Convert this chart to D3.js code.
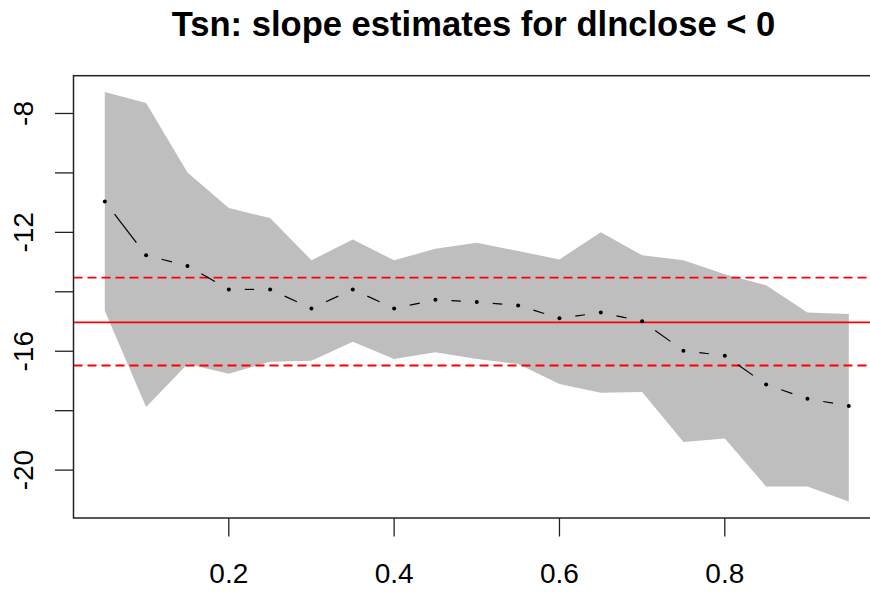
<!DOCTYPE html>
<html>
<head>
<meta charset="utf-8">
<script src="https://cdn.jsdelivr.net/npm/d3@7"></script>
<style>
  body { margin: 0; background: #fff; }
  svg text { font-family: "Liberation Sans", Arial, sans-serif; fill: #000; }
</style>
</head>
<body>
<svg id="chart"></svg>
<script>
const width = 870;
const height = 592;

/* ---------------------------
Data
--------------------------- */

const taus = [0.05, 0.10, 0.15, 0.20, 0.25, 0.30, 0.35, 0.40, 0.45, 0.50,
              0.55, 0.60, 0.65, 0.70, 0.75, 0.80, 0.85, 0.90, 0.95];

const estimates = [-10.96, -12.77, -13.13, -13.92, -13.92, -14.56, -13.92, -14.56, -14.27, -14.34,
                   -14.46, -14.89, -14.70, -14.99, -15.98, -16.15, -17.12, -17.60, -17.84];

const upper = [-7.28, -7.65, -9.99, -11.18, -11.52, -12.94, -12.24, -12.94, -12.55, -12.35,
               -12.63, -12.91, -12.00, -12.77, -12.94, -13.41, -13.78, -14.70, -14.75];

const lower = [-14.64, -17.88, -16.43, -16.76, -16.35, -16.32, -15.68, -16.26, -16.03, -16.26,
               -16.43, -17.10, -17.40, -17.37, -19.05, -18.94, -20.55, -20.55, -21.06];

const olsEstimate = -15.03;
const olsBounds = [-13.52, -16.48];

const xTicks = [0.2, 0.4, 0.6, 0.8];
const yTicks = [-8, -10, -12, -14, -16, -18, -20];
const yLabels = [-8, -12, -16, -20];

const title = "Tsn: slope estimates for dlnclose < 0";

/* ---------------------------
Scales (R style 4% padding)
--------------------------- */

const plotLeft = 73.5;
const plotTop = 75.7;
const plotBottom = 518;
const plotRight = 877;

const x = d3.scaleLinear()
  .domain([0.05, 0.95])
  .range([104.8, 848.8]);

const yMin = d3.min(lower);
const yMax = d3.max(upper);
const yPad = (yMax - yMin) * 0.04;

const y = d3.scaleLinear()
  .domain([yMin - yPad, yMax + yPad])
  .range([plotBottom, plotTop]);

const svg = d3.select("#chart")
  .attr("width", width)
  .attr("height", height);

/* ---------------------------
Confidence band
--------------------------- */

const band = taus.map((t, i) => ({ t: t, lo: lower[i], hi: upper[i] }));

svg.append("path")
  .datum(band)
  .attr("fill", "#bebebe")
  .attr("stroke", "none")
  .attr("d", d3.area()
    .x(d => x(d.t))
    .y0(d => y(d.lo))
    .y1(d => y(d.hi)));

/* ---------------------------
OLS lines
--------------------------- */

svg.append("line")
  .attr("x1", plotLeft).attr("x2", plotRight)
  .attr("y1", y(olsEstimate)).attr("y2", y(olsEstimate))
  .attr("stroke", "#ff0000")
  .attr("stroke-width", 1.7);

svg.selectAll(".olsci")
  .data(olsBounds)
  .enter()
  .append("line")
  .attr("class", "olsci")
  .attr("x1", plotLeft).attr("x2", plotRight)
  .attr("y1", d => y(d)).attr("y2", d => y(d))
  .attr("stroke", "#ff0000")
  .attr("stroke-width", 1.8)
  .attr("stroke-dasharray", "9,5");

/* ---------------------------
Estimates, type = "b"
--------------------------- */

const pts = taus.map((t, i) => ({ px: x(t), py: y(estimates[i]) }));
const gap = 16;

const segs = [];
for (let i = 0; i < pts.length - 1; i++) {
  const a = pts[i];
  const b = pts[i + 1];
  const len = Math.hypot(b.px - a.px, b.py - a.py);
  if (len <= 2 * gap) continue;
  const ux = (b.px - a.px) / len;
  const uy = (b.py - a.py) / len;
  segs.push({
    x1: a.px + ux * gap, y1: a.py + uy * gap,
    x2: b.px - ux * gap, y2: b.py - uy * gap
  });
}

svg.selectAll(".seg")
  .data(segs)
  .enter()
  .append("line")
  .attr("class", "seg")
  .attr("x1", d => d.x1).attr("y1", d => d.y1)
  .attr("x2", d => d.x2).attr("y2", d => d.y2)
  .attr("stroke", "#000")
  .attr("stroke-width", 1.2);

svg.selectAll(".pt")
  .data(pts)
  .enter()
  .append("circle")
  .attr("class", "pt")
  .attr("cx", d => d.px)
  .attr("cy", d => d.py)
  .attr("r", 2)
  .attr("fill", "#000");

/* ---------------------------
Box and axes
--------------------------- */

svg.append("rect")
  .attr("x", plotLeft)
  .attr("y", plotTop)
  .attr("width", plotRight - plotLeft)
  .attr("height", plotBottom - plotTop)
  .attr("fill", "none")
  .attr("stroke", "#222")
  .attr("stroke-width", 1.5);

svg.selectAll(".xtick")
  .data(xTicks)
  .enter()
  .append("line")
  .attr("class", "xtick")
  .attr("x1", d => x(d)).attr("x2", d => x(d))
  .attr("y1", plotBottom).attr("y2", plotBottom + 18.5)
  .attr("stroke", "#222")
  .attr("stroke-width", 1.3);

svg.selectAll(".xlabel")
  .data(xTicks)
  .enter()
  .append("text")
  .attr("class", "xlabel")
  .attr("x", d => x(d))
  .attr("y", 583)
  .attr("text-anchor", "middle")
  .style("font-size", "28px")
  .text(d => d3.format(".1f")(d));

svg.selectAll(".ytick")
  .data(yTicks)
  .enter()
  .append("line")
  .attr("class", "ytick")
  .attr("x1", plotLeft - 18.5).attr("x2", plotLeft)
  .attr("y1", d => y(d)).attr("y2", d => y(d))
  .attr("stroke", "#222")
  .attr("stroke-width", 1.3);

svg.selectAll(".ylabel")
  .data(yLabels)
  .enter()
  .append("text")
  .attr("class", "ylabel")
  .attr("transform", d => `translate(33.3,${y(d)}) rotate(-90)`)
  .attr("text-anchor", "middle")
  .style("font-size", "28px")
  .text(d => d);

/* ---------------------------
Title
--------------------------- */

svg.append("text")
  .attr("x", 473.5)
  .attr("y", 36)
  .attr("text-anchor", "middle")
  .style("font-size", "34.6px")
  .style("font-weight", "bold")
  .text(title);
</script>
</body>
</html>
